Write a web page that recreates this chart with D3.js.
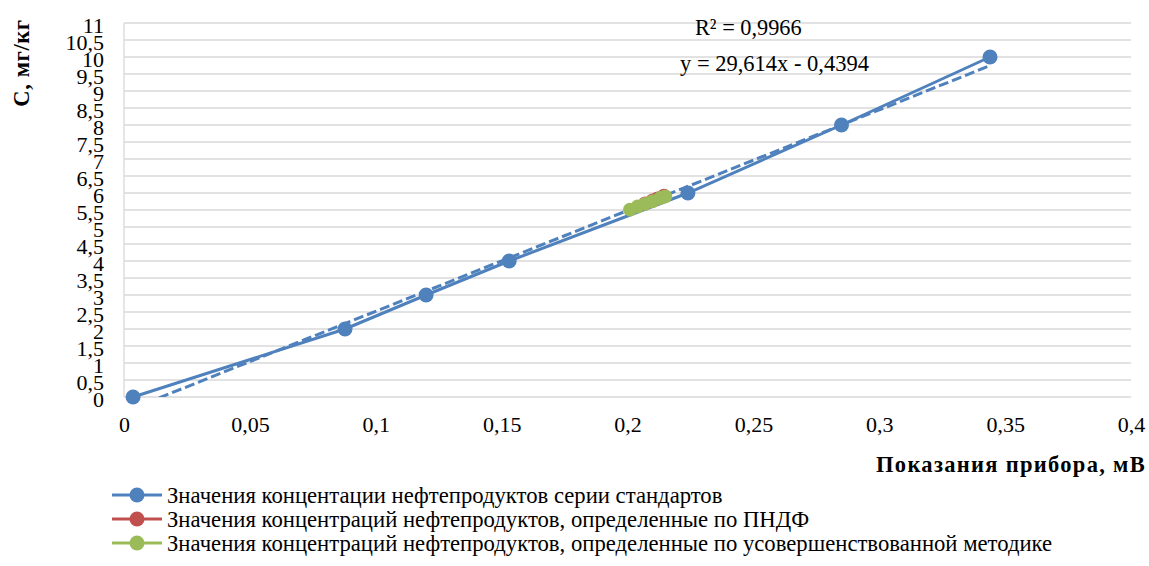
<!DOCTYPE html>
<html><head><meta charset="utf-8">
<script src="https://cdn.jsdelivr.net/npm/d3@7"></script>
<style>body{margin:0;background:#fff}svg{display:block}svg text{font-family:'Liberation Serif','Times New Roman',serif;fill:#000}</style>
</head><body>
<svg id="c" width="1149" height="566"></svg>
<script>
const stdX = [0.0036, 0.0878, 0.1200, 0.1530, 0.2240, 0.2850, 0.3440];
const stdY = [0, 2, 3, 4, 6, 8, 10];
const pndfX = [0.2070, 0.2100, 0.2120, 0.2145];
const pndfY = [5.69, 5.78, 5.84, 5.92];
const newX = [0.2010, 0.2040, 0.2070, 0.2100, 0.2130, 0.2150];
const newY = [5.51, 5.60, 5.68, 5.76, 5.85, 5.90];
const trendSlope = 29.614, trendIntercept = -0.4394;
const xTicks = [0, 0.05, 0.1, 0.15, 0.2, 0.25, 0.3, 0.35, 0.4];
const yTicks = [0, 0.5, 1, 1.5, 2, 2.5, 3, 3.5, 4, 4.5, 5, 5.5, 6, 6.5, 7, 7.5, 8, 8.5, 9, 9.5, 10, 10.5, 11];
const legendLabels = [
  "Значения концентации нефтепродуктов серии стандартов",
  "Значения концентраций нефтепродуктов, определенные по ПНДФ",
  "Значения концентраций нефтепродуктов, определенные по усовершенствованной методике"
];
const colors = ["#4F81BD", "#C0504D", "#9BBB59"];
const fmt = v => String(+v.toFixed(2)).replace(".", ",");

const svg = d3.select("#c");
const x = d3.scaleLinear().domain([0, 0.4]).range([124, 1131]);
const y = d3.scaleLinear().domain([0, 11]).range([397, 23]);

// gridlines
svg.append("g").selectAll("line").data(yTicks).join("line")
  .attr("x1", x(0)).attr("x2", x(0.4))
  .attr("y1", d => y(d)).attr("y2", d => y(d))
  .attr("stroke", "#D9D9D9").attr("stroke-width", 1.3);
svg.append("line").attr("x1", x(0)).attr("x2", x(0)).attr("y1", y(0)).attr("y2", y(11))
  .attr("stroke", "#D9D9D9").attr("stroke-width", 1.3);

// axis labels
const yAxis = d3.axisLeft(y).tickValues(yTicks).tickFormat(fmt).tickSize(0).tickPadding(20);
const gy = svg.append("g").attr("transform", `translate(${x(0)},0)`).call(yAxis);
gy.select(".domain").remove();
gy.attr("font-family", null);
gy.selectAll("text").style("font-size", "22px").attr("dy", "0.45em");

const xAxis = d3.axisBottom(x).tickValues(xTicks).tickFormat(fmt).tickSize(0).tickPadding(19);
const gx = svg.append("g").attr("transform", `translate(0,${y(0)})`).call(xAxis);
gx.select(".domain").remove();
gx.attr("font-family", null);
gx.selectAll("text").style("font-size", "22px");

// axis titles
svg.append("text").attr("transform", "translate(29,63) rotate(-90)")
  .attr("text-anchor", "middle").style("font-size", "22.5px")
  .style("font-weight", "bold").style("letter-spacing", "0.6px").text("С, мг/кг");
svg.append("text").attr("x", 1146).attr("y", 472).attr("text-anchor", "end")
  .style("font-size", "22.5px").style("font-weight", "bold").style("letter-spacing", "1.3px")
  .text("Показания прибора, мВ");

const line = d3.line().x(d => x(d[0])).y(d => y(d[1]));

// standard series
const stdData = stdX.map((v, i) => [v, stdY[i]]);
svg.append("path").datum(stdData).attr("d", line).attr("fill", "none")
  .attr("stroke", colors[0]).attr("stroke-width", 3);

// trendline, clipped to plot area
svg.append("clipPath").attr("id", "pc").append("rect")
  .attr("x", x(0)).attr("y", y(11)).attr("width", x(0.4) - x(0)).attr("height", y(0) - y(11));
const tx = d3.extent(stdX);
svg.append("path").datum(tx.map(v => [v, trendSlope * v + trendIntercept]))
  .attr("d", line).attr("fill", "none").attr("stroke", colors[0])
  .attr("stroke-width", 3).attr("stroke-dasharray", "10,4").attr("clip-path", "url(#pc)");

svg.append("g").selectAll("circle").data(stdData).join("circle")
  .attr("cx", d => x(d[0])).attr("cy", d => y(d[1])).attr("r", 7.5).attr("fill", colors[0]);

// PNDF series
const pndfData = pndfX.map((v, i) => [v, pndfY[i]]);
svg.append("path").datum(pndfData).attr("d", line).attr("fill", "none")
  .attr("stroke", colors[1]).attr("stroke-width", 3);
svg.append("g").selectAll("circle").data(pndfData).join("circle")
  .attr("cx", d => x(d[0])).attr("cy", d => y(d[1])).attr("r", 7).attr("fill", colors[1]);

// improved method series
const newData = newX.map((v, i) => [v, newY[i]]);
svg.append("path").datum(newData).attr("d", line).attr("fill", "none")
  .attr("stroke", colors[2]).attr("stroke-width", 3);
svg.append("g").selectAll("circle").data(newData).join("circle")
  .attr("cx", d => x(d[0])).attr("cy", d => y(d[1])).attr("r", 7).attr("fill", colors[2]);

// trendline labels
svg.append("text").attr("x", 695).attr("y", 35).style("font-size", "22.3px").text("R² = 0,9966");
svg.append("text").attr("x", 680).attr("y", 71).style("font-size", "22.5px").text("y = 29,614x - 0,4394");

// legend
const lg = svg.append("g").selectAll("g").data(legendLabels).join("g")
  .attr("transform", (d, i) => `translate(0,${495 + i * 24})`);
lg.append("line").attr("x1", 112).attr("x2", 162).attr("stroke", (d, i) => colors[i]).attr("stroke-width", 3);
lg.append("circle").attr("cx", 137).attr("r", 7.5).attr("fill", (d, i) => colors[i]);
lg.append("text").attr("x", 167).attr("y", 8).style("font-size", "22.7px").text(d => d);
</script>
</body></html>
